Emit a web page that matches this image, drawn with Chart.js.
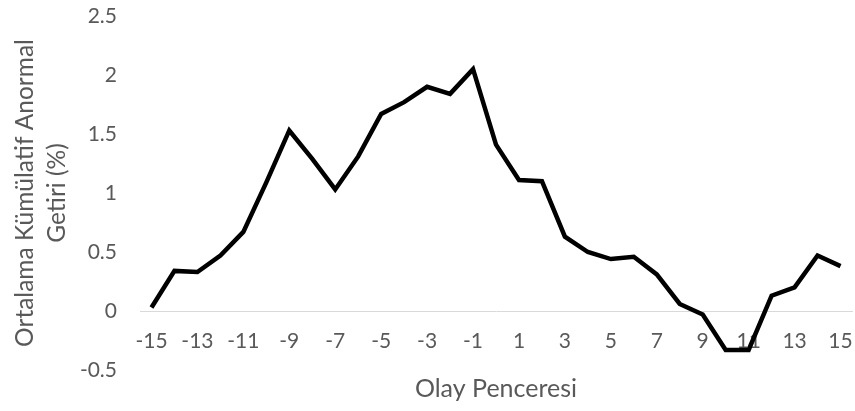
<!DOCTYPE html>
<html>
<head>
<meta charset="utf-8">
<script src="https://cdn.jsdelivr.net/npm/chart.js@4.4.1/dist/chart.umd.min.js"></script>
<style>
  html, body { margin: 0; padding: 0; background: #fff; }
</style>
</head>
<body>
<canvas id="chart" width="855" height="411"></canvas>
<script>
// event window days -15 .. 15
var days = [-15, -14, -13, -12, -11, -10, -9, -8, -7, -6, -5, -4, -3, -2, -1, 0,
            1, 2, 3, 4, 5, 6, 7, 8, 9, 10, 11, 12, 13, 14, 15];
// mean cumulative abnormal return (%)
var car = [0.03, 0.34, 0.33, 0.47, 0.67, 1.09, 1.53, 1.29, 1.03, 1.31, 1.67, 1.77, 1.90, 1.84, 2.05, 1.41,
           1.11, 1.10, 0.63, 0.50, 0.44, 0.46, 0.31, 0.06, -0.03, -0.33, -0.33, 0.13, 0.20, 0.47, 0.38];
var yTitle = ["Ortalama Kümülatif Anormal", "Getiri (%)"];
var xTitle = "Olay Penceresi";

var grey = "#595959";
var font = "Lato";

function noPad(scale) {
	scale.paddingTop = 0;
	scale.paddingBottom = 0;
	scale.paddingLeft = 0;
	scale.paddingRight = 0;
}

var ctx = document.getElementById("chart");
var chart = new Chart(ctx, {
	type: "line",
	data: {
		labels: days,
		datasets: [{
			data: car,
			borderColor: "#000000",
			borderWidth: 4.5,
			pointRadius: 0,
			tension: 0,
			fill: false
		}]
	},
	options: {
		responsive: false,
		animation: false,
		layout: { padding: { top: 16, right: 3, bottom: 41, left: 0 } },
		plugins: {
			legend: { display: false },
			tooltip: { enabled: false }
		},
		scales: {
			x: {
				position: { y: 0 },
				offset: true,
				afterFit: noPad,
				grid: { display: false, drawTicks: false },
				border: { display: true, color: "#d9d9d9", width: 1 },
				ticks: {
					autoSkip: false,
					maxRotation: 0,
					padding: 18,
					color: grey,
					font: { family: font, size: 21 },
					callback: function (val, i) {
						return i % 2 === 0 ? this.getLabelForValue(val) : "";
					}
				},
				title: {
					display: true,
					text: xTitle,
					color: grey,
					font: { family: font, size: 25 },
					padding: { top: 2, bottom: 0 }
				}
			},
			y: {
				min: -0.5,
				max: 2.5,
				afterFit: function (scale) {
					noPad(scale);
					scale.width = 140;
				},
				grid: { display: false, drawTicks: false },
				border: { display: false },
				ticks: {
					stepSize: 0.5,
					padding: 23,
					color: grey,
					font: { family: font, size: 21 },
					callback: function (val) {
						return String(Math.round(val * 10) / 10);
					}
				},
				title: {
					display: true,
					text: yTitle,
					color: grey,
					font: { family: font, size: 24.5, lineHeight: 1.32 },
					padding: { top: 9, bottom: 0 }
				}
			}
		}
	}
});
</script>
</body>
</html>
